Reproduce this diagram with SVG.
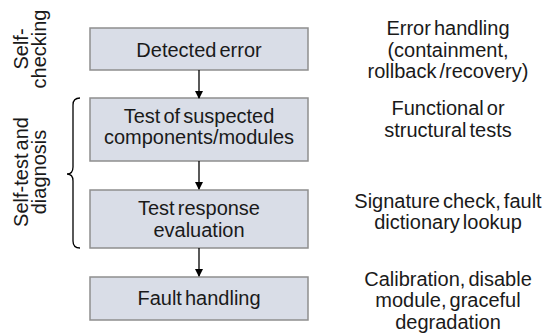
<svg xmlns="http://www.w3.org/2000/svg" width="554" height="335" viewBox="0 0 554 335">
<style>
.box{fill:#d9dde7;stroke:#8e8e8e;stroke-width:1.5}
.t{font-family:"Liberation Sans",Arial,sans-serif;font-size:20px;fill:#1a1a1a;text-anchor:middle;word-spacing:-2.5px}
.c{stroke:#000;stroke-width:1.3;fill:none}
</style>
<defs>
<marker id="ah" markerWidth="8" markerHeight="8" refX="7" refY="4" orient="auto" markerUnits="userSpaceOnUse">
<path d="M0,0 L8,4 L0,8 Z" fill="#000"/>
</marker>
</defs>
<rect width="554" height="335" fill="#fff"/>
<g id="node1"><rect class="box" x="90" y="28" width="218" height="42"/><text class="t" x="199" y="57">Detected error</text></g>
<g id="node2"><rect class="box" x="90" y="98" width="218" height="63"/><text class="t" x="199" y="123">Test of suspected</text><text class="t" x="199" y="144">components/modules</text></g>
<g id="node3"><rect class="box" x="90" y="190" width="218" height="58"/><text class="t" x="199" y="215">Test response</text><text class="t" x="199" y="237">evaluation</text></g>
<g id="node4"><rect class="box" x="90" y="277" width="218" height="43"/><text class="t" x="199" y="305">Fault handling</text></g>
<g id="connectors">
<line class="c" x1="199" y1="70" x2="199" y2="98" marker-end="url(#ah)"/>
<line class="c" x1="199" y1="161" x2="199" y2="189" marker-end="url(#ah)"/>
<line class="c" x1="199" y1="248" x2="199" y2="276" marker-end="url(#ah)"/>
<path class="c" d="M80,98 Q73,98 73,105 L73,167 Q73,174 67,174 Q73,174 73,181 L73,241 Q73,248 80,248"/>
</g>
<g id="labels-left">
<text class="t" transform="translate(28,49) rotate(-90)">Self-</text>
<text class="t" transform="translate(46,49) rotate(-90)">checking</text>
<text class="t" transform="translate(28,172) rotate(-90)">Self-test and</text>
<text class="t" transform="translate(46,172) rotate(-90)">diagnosis</text>
</g>
<g id="labels-right">
<text class="t" x="448" y="35">Error handling</text>
<text class="t" x="448" y="57">(containment,</text>
<text class="t" x="448" y="78">rollback /recovery)</text>
<text class="t" x="448" y="115">Functional or</text>
<text class="t" x="448" y="137">structural tests</text>
<text class="t" x="448" y="208">Signature check, fault</text>
<text class="t" x="448" y="229">dictionary lookup</text>
<text class="t" x="448" y="286">Calibration, disable</text>
<text class="t" x="448" y="307">module, graceful</text>
<text class="t" x="448" y="329">degradation</text>
</g>
</svg>
